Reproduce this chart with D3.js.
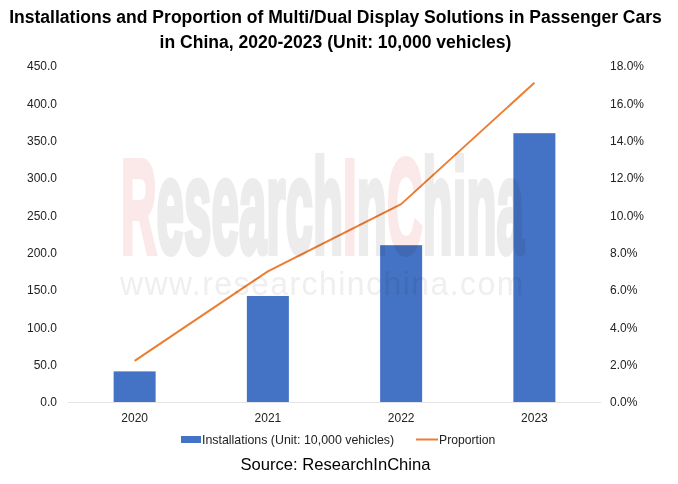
<!DOCTYPE html>
<html>
<head>
<meta charset="utf-8">
<script src="https://cdnjs.cloudflare.com/ajax/libs/d3/7.8.5/d3.min.js"></script>
<style>
  html, body { margin: 0; padding: 0; background: #fff; }
  svg { display: block; font-family: "Liberation Sans", Arial, sans-serif; }
</style>
</head>
<body>
<svg id="chart" width="678" height="484"></svg>
<script>
const years = ['2020', '2021', '2022', '2023'];
const installations = [41, 142, 210, 360];
const proportion = [2.2, 7.0, 10.6, 17.1];
const leftTicks = [0, 50, 100, 150, 200, 250, 300, 350, 400, 450];
const rightTicks = [0, 2, 4, 6, 8, 10, 12, 14, 16, 18];
const titleLines = [
  'Installations and Proportion of Multi/Dual Display Solutions in Passenger Cars',
  'in China, 2020-2023 (Unit: 10,000 vehicles)'
];
const watermarkParts = [
  ['R', '#fbe9e9'], ['esearch', '#ececec'], ['I', '#fbe9e9'],
  ['n', '#ececec'], ['C', '#fbe9e9'], ['hina', '#ececec']
];

const svg = d3.select('#chart');
const plot = { left: 68, right: 601, top: 66, bottom: 402 };

const x = d3.scaleBand().domain(years).range([plot.left, plot.right]);
const yLeft = d3.scaleLinear().domain([0, 450]).range([plot.bottom, plot.top]);
const yRight = d3.scaleLinear().domain([0, 18]).range([plot.bottom, plot.top]);

// title
svg.append('g').selectAll('text').data(titleLines).enter().append('text')
  .attr('x', 335.5)
  .attr('y', (d, i) => 23 + i * 25)
  .attr('text-anchor', 'middle')
  .attr('font-size', 17.55)
  .attr('font-weight', 'bold')
  .attr('fill', '#000')
  .text(d => d);

// axes
const axisLeft = d3.axisLeft(yLeft).tickValues(leftTicks).tickSize(0).tickPadding(11)
  .tickFormat(d3.format('.1f'));
const axisRight = d3.axisRight(yRight).tickValues(rightTicks).tickSize(0).tickPadding(9)
  .tickFormat(d => d3.format('.1f')(d) + '%');
const axisBottom = d3.axisBottom(x).tickSize(0).tickPadding(11);

[
  svg.append('g').attr('transform', `translate(${plot.left},0)`).call(axisLeft),
  svg.append('g').attr('transform', `translate(${plot.right},0)`).call(axisRight),
  svg.append('g').attr('transform', `translate(0,${plot.bottom})`).call(axisBottom)
].forEach(g => {
  g.attr('font-family', null).attr('font-size', null);
  g.selectAll('text').attr('font-size', 12).attr('fill', '#222');
});
svg.selectAll('.domain').attr('stroke', 'none');
svg.append('line')
  .attr('x1', plot.left).attr('x2', plot.right)
  .attr('y1', plot.bottom + 0.5).attr('y2', plot.bottom + 0.5)
  .attr('stroke', '#e4e4e4').attr('stroke-width', 1);

// bars
const barWidth = 42;
svg.append('g').selectAll('rect').data(installations).enter().append('rect')
  .attr('x', (d, i) => x(years[i]) + x.bandwidth() / 2 - barWidth / 2)
  .attr('width', barWidth)
  .attr('y', d => yLeft(d))
  .attr('height', d => plot.bottom - yLeft(d))
  .attr('fill', '#4472c4');

// line
const line = d3.line()
  .x((d, i) => x(years[i]) + x.bandwidth() / 2)
  .y(d => yRight(d));
svg.append('path')
  .attr('d', line(proportion))
  .attr('fill', 'none')
  .attr('stroke', '#ed7d31')
  .attr('stroke-width', 2)
  .attr('stroke-linejoin', 'round');

// watermark sits over the bars, tinting them slightly
const mark = svg.append('g').style('mix-blend-mode', 'multiply');
const brand = mark.append('text')
  .attr('font-size', 134)
  .attr('font-weight', 'bold')
  .attr('stroke-width', 6);
brand.selectAll('tspan').data(watermarkParts).enter().append('tspan')
  .attr('fill', d => d[1])
  .attr('stroke', d => d[1])
  .text(d => d[0]);
const brandWidth = brand.node().getComputedTextLength();
brand.attr('transform', `translate(121,253) scale(${403 / brandWidth},1)`);

const url = mark.append('text')
  .attr('font-size', 33)
  .attr('letter-spacing', 1.5)
  .attr('fill', '#efefef')
  .text('www.researchinchina.com');
const urlWidth = url.node().getComputedTextLength();
url.attr('transform', `translate(120,295) scale(${405 / urlWidth},1)`);

// legend
const legend = svg.append('g');
legend.append('rect')
  .attr('x', 181).attr('y', 436).attr('width', 20).attr('height', 7)
  .attr('fill', '#4472c4');
legend.append('text')
  .attr('x', 202).attr('y', 444).attr('font-size', 12.4).attr('fill', '#222')
  .text('Installations (Unit: 10,000 vehicles)');
legend.append('line')
  .attr('x1', 416).attr('x2', 438).attr('y1', 439.5).attr('y2', 439.5)
  .attr('stroke', '#ed7d31').attr('stroke-width', 2);
legend.append('text')
  .attr('x', 439).attr('y', 444).attr('font-size', 12.2).attr('fill', '#222')
  .text('Proportion');

// source
svg.append('text')
  .attr('x', 335.5).attr('y', 470)
  .attr('text-anchor', 'middle')
  .attr('font-size', 16.6)
  .attr('fill', '#000')
  .text('Source: ResearchInChina');
</script>
</body>
</html>
